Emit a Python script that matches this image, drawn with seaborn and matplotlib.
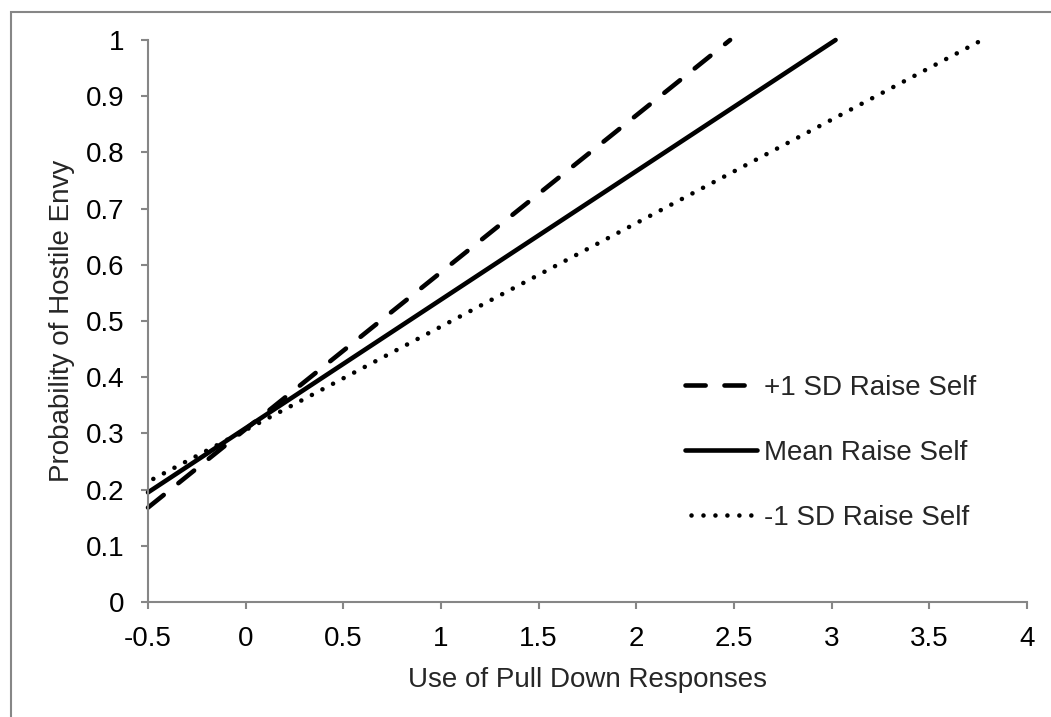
import matplotlib
matplotlib.use("Agg")
import matplotlib.pyplot as plt
import seaborn as sns
import pandas as pd
from matplotlib.patches import Rectangle

# Data
series_names = ["+1 SD Raise Self", "Mean Raise Self", "-1 SD Raise Self"]
x_plus = [-0.5, 2.48]
y_plus = [0.168, 1.0]
x_mean = [-0.5, 3.02]
y_mean = [0.195, 1.0]
x_minus = [-0.5, 3.77]
y_minus = [0.214, 1.0]
x_ticks = [-0.5, 0, 0.5, 1, 1.5, 2, 2.5, 3, 3.5, 4]
x_tick_labels = ["-0.5", "0", "0.5", "1", "1.5", "2", "2.5", "3", "3.5", "4"]
y_ticks = [0, 0.1, 0.2, 0.3, 0.4, 0.5, 0.6, 0.7, 0.8, 0.9, 1.0]
y_tick_labels = ["0", "0.1", "0.2", "0.3", "0.4", "0.5", "0.6", "0.7", "0.8", "0.9", "1"]

sns.set_style("white")
plt.rcParams['font.family'] = ['Liberation Sans', 'DejaVu Sans']

W, H = 1051, 717
fig = plt.figure(figsize=(W / 100, H / 100), dpi=100)
ax = fig.add_axes([148 / W, 1 - 602 / H, (1027 - 148) / W, (602 - 40) / H])

# Outer grey border (left and top visible)
fig.patches.append(Rectangle((11 / W, -0.1), 1.2, 1 - 12 / H + 0.1, transform=fig.transFigure,
                             fill=False, edgecolor="#868686", linewidth=1.5, zorder=0))

lw = 3.3
styles = [
    (0, (4.4, 4.1)),
    "solid",
    (1.3, (0.01, 2.6)),
]
xs = [x_plus, x_mean, x_minus]
ys = [y_plus, y_mean, y_minus]
for name, xv, yv, ls in zip(series_names, xs, ys, styles):
    df = pd.DataFrame({"x": xv, "y": yv})
    sns.lineplot(data=df, x="x", y="y", ax=ax, color="black", linewidth=lw,
                 linestyle=ls, dash_capstyle="round", solid_capstyle="round",
                 label=name, clip_on=False)

fs = 20
ax.set_xlim(-0.5, 4)
ax.set_ylim(0, 1)
ax.set_xticks(x_ticks)
ax.set_xticklabels(x_tick_labels)
ax.set_yticks(y_ticks)
ax.set_yticklabels(y_tick_labels)
ax.tick_params(axis="both", direction="out", length=5, width=1.5, color="#868686",
               labelsize=fs, pad=12, labelcolor="black", bottom=True, left=True)
for side in ["top", "right"]:
    ax.spines[side].set_visible(False)
for side in ["left", "bottom"]:
    ax.spines[side].set_color("#868686")
    ax.spines[side].set_linewidth(1.5)

ax.set_xlabel("Use of Pull Down Responses", fontsize=fs, labelpad=11)
ax.set_ylabel("Probability of Hostile Envy", fontsize=fs, labelpad=8)

leg = ax.legend(loc="center left", bbox_to_anchor=(0.611, 0.265), frameon=False,
                fontsize=fs, handlelength=2.6, handletextpad=0.25, labelspacing=1.4,
                borderpad=0, borderaxespad=0)

fig.savefig("out.png", dpi=100)
